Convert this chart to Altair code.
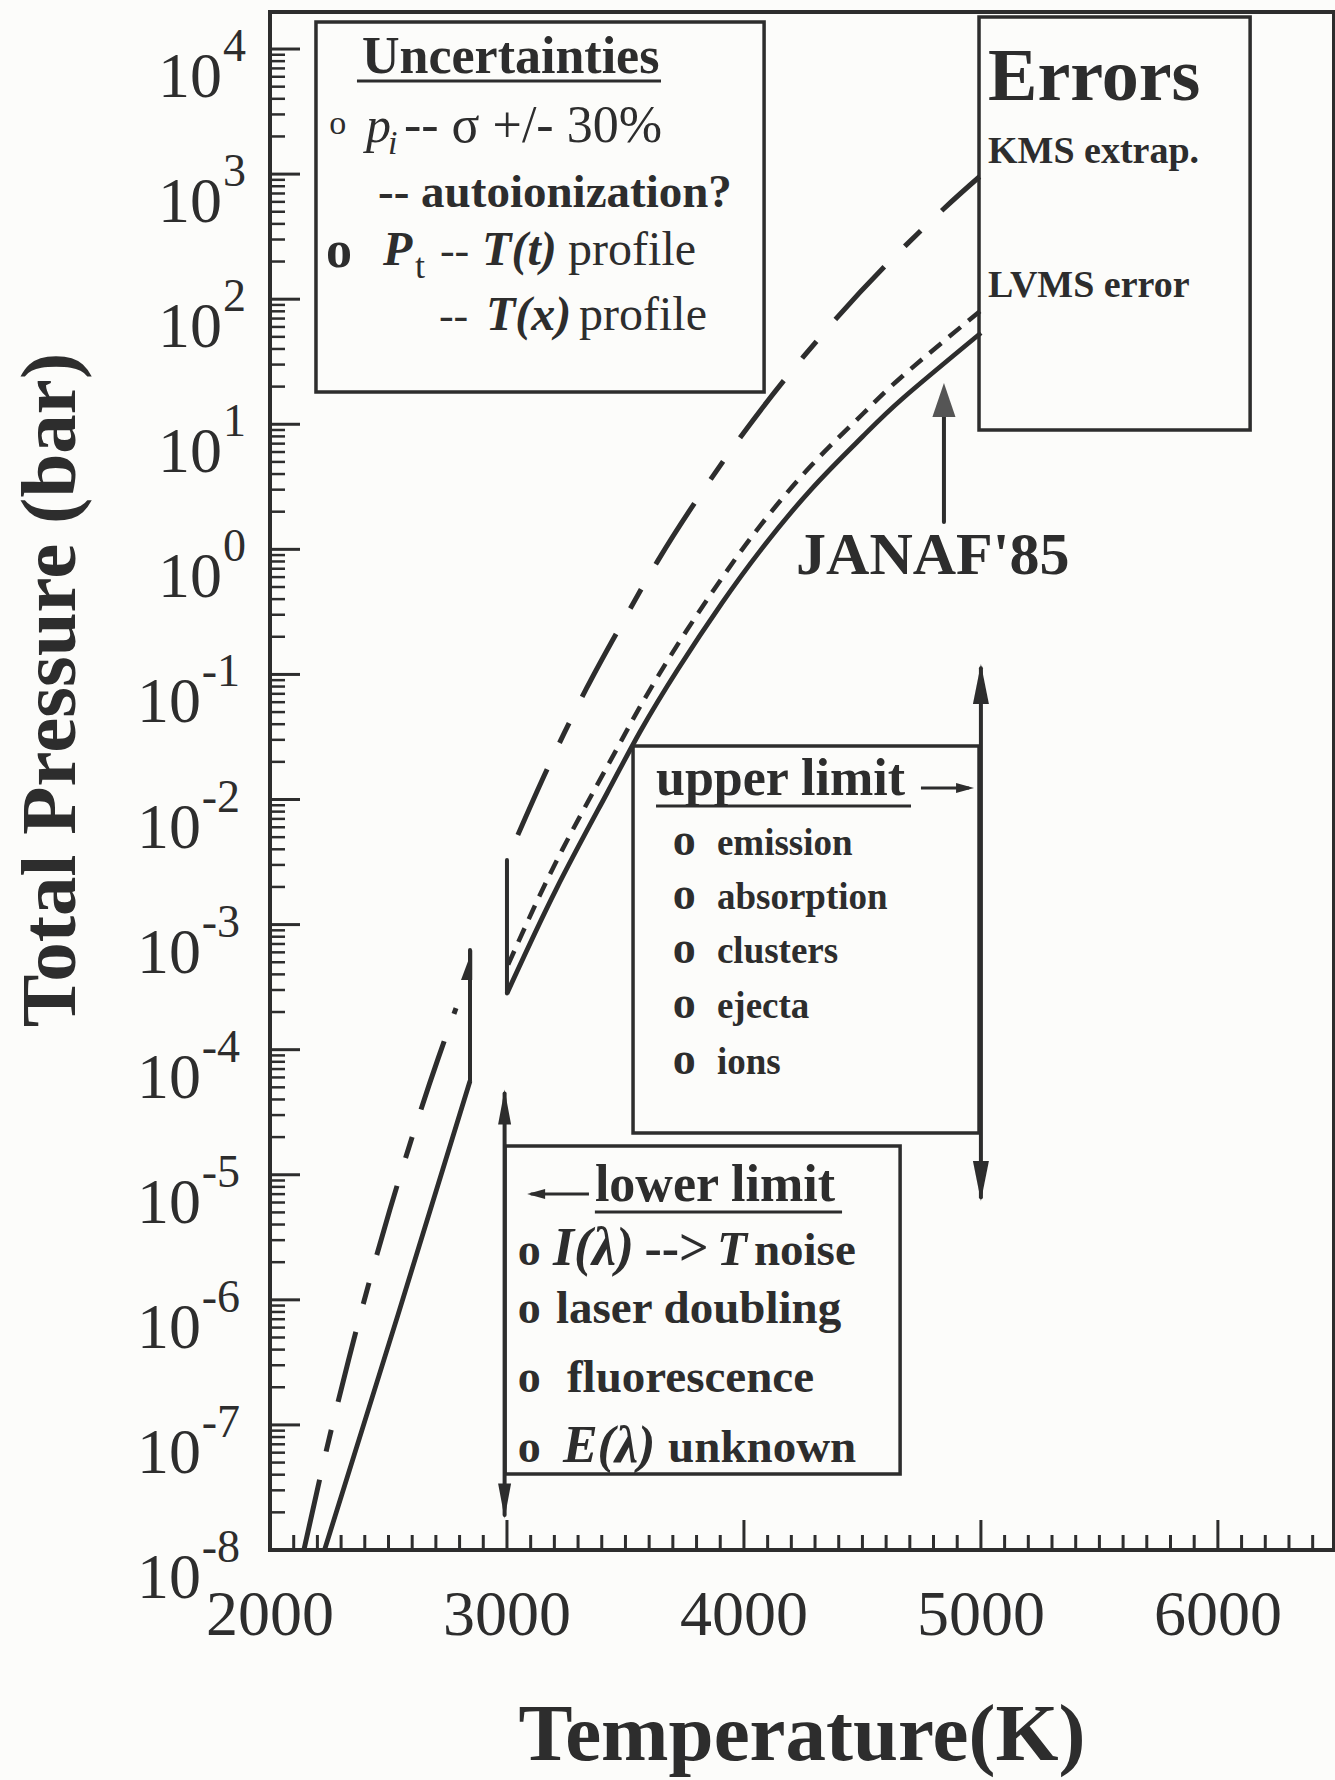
import altair as alt
import pandas as pd
import numpy as np

INK = "#2d2d2d"
BG = "#fcfcfa"
FONT = "Liberation Serif"
W, H = 1064, 1538

# ---------------- data (T in K, L = log10 P/bar) ----------------
solid_lo_T = [2230, 2540, 2844]
solid_lo_L = [-8.0, -6.12, -4.25]
solid_hi_T = [3000, 3207, 3422, 3561, 3724, 3907, 4069, 4284, 4500, 4672, 5000]
solid_hi_L = [-3.55, -2.72, -1.95, -1.46, -0.95, -0.43, -0.01, 0.48, 0.90, 1.21, 1.73]
short_T = [3005, 3207, 3422, 3561, 3724, 3907, 4069, 4284, 4500, 4672, 5000]
short_L = [-3.32, -2.50, -1.74, -1.26, -0.75, -0.23, 0.19, 0.67, 1.08, 1.39, 1.91]
dd_lo_T = [2143, 2236, 2333, 2419, 2505, 2613, 2710, 2785]
dd_lo_L = [-8.0, -7.219, -6.470, -5.856, -5.285, -4.620, -4.068, -3.668]
dd_hi_T = [3046, 3175, 3336, 3477, 3637, 3810, 3982, 4173, 4387, 4600, 4840, 4994]
dd_hi_L = [-2.283, -1.735, -1.110, -0.620, -0.090, 0.422, 0.888, 1.360, 1.840, 2.274, 2.717, 2.979]

# vertical segments (T, L_from, L_to)
verticals = [(2844, -4.25, -3.203), (3000, -3.55, -2.484), (2990, -4.35, -7.72), (5000, -0.95, -5.18), (4844, 0.219, 1.20)]

# boxes (T1, T2, L1, L2)
boxes = [(2194, 4085, 4.216, 1.258), (4992, 6136, 4.256, 0.954), (3532, 4992, -1.572, -4.666), (2992, 4659, -4.770, -7.393)]
# underlines and small horizontal arrows (T1, T2, L)
hlines = [(2367, 3650, 3.744), (3629, 4705, -2.052), (3371, 4414, -5.298), (4747, 4950, -1.908), (3100, 3346, -5.154)]

x_major = [2000, 3000, 4000, 5000, 6000]
x_minor = [t for t in range(2100, 6500, 100) if t % 1000]
y_exps = list(range(-8, 5))
y_minor = [k * 10.0 ** e for e in range(-8, 4) for k in range(2, 10)]

texts = [
    ("Uncertainties", 2388, 3.808, 52, "b"),
    ("o", 2250, 3.321, 34, "r"),
    ("p", 2405, 3.257, 50, "i"),
    ("i", 2498, 3.161, 34, "i"),
    ("-- \u03c3 +/- 30%", 2565, 3.257, 52, "r"),
    ("-- autoionization?", 2456, 2.737, 47, "b"),
    ("o", 2236, 2.257, 52, "b"),
    ("P", 2477, 2.273, 48, "bi"),
    ("t", 2612, 2.169, 36, "r"),
    ("--", 2717, 2.273, 44, "r"),
    ("T(t)", 2895, 2.273, 48, "bi"),
    ("profile", 3258, 2.273, 48, "r"),
    ("--", 2713, 1.754, 44, "r"),
    ("T(x)", 2911, 1.754, 48, "bi"),
    ("profile", 3304, 1.754, 48, "r"),
    ("Errors", 5030, 3.592, 74, "b"),
    ("KMS extrap.", 5030, 3.089, 38, "b"),
    ("LVMS error", 5030, 2.017, 38, "b"),
    ("JANAF'85", 4220, -0.197, 60, "b"),
    ("upper limit", 3629, -1.964, 52, "b"),
    ("emission", 3886, -2.444, 37, "b"),
    ("absorption", 3886, -2.876, 37, "b"),
    ("clusters", 3886, -3.307, 37, "b"),
    ("ejecta", 3886, -3.747, 37, "b"),
    ("ions", 3886, -4.195, 37, "b"),
    ("lower limit", 3371, -5.210, 52, "b"),
    ("I(\u03bb)", 3194, -5.722, 54, "bi"),
    ("-->", 3580, -5.722, 52, "b"),
    ("T", 3886, -5.722, 49, "bi"),
    ("noise", 4042, -5.722, 47, "b"),
    ("laser doubling", 3207, -6.185, 47, "b"),
    ("fluorescence", 3253, -6.737, 47, "b"),
    ("E(\u03bb)", 3236, -7.297, 52, "bi"),
    ("unknown", 3680, -7.297, 47, "b"),
]
for L in [-2.444, -2.876, -3.307, -3.747, -4.195]:
    texts.append(("o", 3700, L, 46, "b"))
for L in [-5.722, -6.185, -6.737, -7.297]:
    texts.append(("o", 3045, L, 46, "b"))

# ---------------- scales ----------------
xs = alt.Scale(domain=[2000, 6490], nice=False, zero=False)
ys = alt.Scale(type="log", domain=[1e-8, 10 ** 4.296], nice=False)


def X(f="T"):
    return alt.X(f + ":Q", scale=xs, axis=None)


def Y(f="P"):
    return alt.Y(f + ":Q", scale=ys, axis=None)


def curve_df(T, L):
    return pd.DataFrame({"T": T, "P": [10 ** v for v in L]})


layers = []

# boxes
bdf = pd.DataFrame(boxes, columns=["T", "T2", "L", "L2"])
bdf["P"] = 10 ** bdf["L"]
bdf["P2"] = 10 ** bdf["L2"]
layers.append(alt.Chart(bdf).mark_rect(fill=BG, stroke=INK, strokeWidth=3.5).encode(
    x=X(), x2="T2:Q", y=Y(), y2="P2:Q"))

# ticks
layers.append(alt.Chart(pd.DataFrame({"T": x_major})).mark_rule(color=INK, strokeWidth=3).encode(
    x=X(), y=alt.value(H), y2=alt.value(H - 30)))
layers.append(alt.Chart(pd.DataFrame({"T": x_minor})).mark_rule(color=INK, strokeWidth=3).encode(
    x=X(), y=alt.value(H), y2=alt.value(H - 15)))
layers.append(alt.Chart(pd.DataFrame({"P": [10.0 ** e for e in y_exps]})).mark_rule(color=INK, strokeWidth=3).encode(
    y=Y(), x=alt.value(0), x2=alt.value(30)))
layers.append(alt.Chart(pd.DataFrame({"P": y_minor})).mark_rule(color=INK, strokeWidth=2.5).encode(
    y=Y(), x=alt.value(0), x2=alt.value(15)))

# curves
for T, L, dash, sw in [
    (solid_lo_T, solid_lo_L, None, 4.8),
    (solid_hi_T, solid_hi_L, None, 4.8),
    (short_T, short_L, [15, 10], 4.5),
    (dd_lo_T, dd_lo_L, [72, 29, 22, 29], 5),
    (dd_hi_T, dd_hi_L, [72, 29, 22, 29], 5),
]:
    kw = dict(color=INK, strokeWidth=sw, interpolate="natural", strokeCap="butt")
    if dash:
        kw["strokeDash"] = dash
    layers.append(alt.Chart(curve_df(T, L)).mark_line(**kw).encode(x=X(), y=Y()))

# vertical lines
vdf = pd.DataFrame(verticals, columns=["T", "L", "L2"])
vdf["P"] = 10 ** vdf["L"]
vdf["P2"] = 10 ** vdf["L2"]
layers.append(alt.Chart(vdf).mark_rule(color=INK, strokeWidth=4, strokeCap="round").encode(
    x=X(), y=Y(), y2="P2:Q"))

# horizontal lines (underlines, arrows)
hdf = pd.DataFrame(hlines, columns=["T", "T2", "L"])
hdf["P"] = 10 ** hdf["L"]
layers.append(alt.Chart(hdf).mark_rule(color=INK, strokeWidth=3).encode(
    x=X(), x2="T2:Q", y=Y()))


# arrowheads
def heads(T, L, shape, size, fill=INK):
    df = pd.DataFrame({"T": T, "P": [10 ** v for v in L]})
    return alt.Chart(df).mark_point(shape=shape, size=size, filled=True, fill=fill, opacity=1).encode(x=X(), y=Y())


layers.append(heads([5000], [-1.077], "M0,-1L0.4,1L-0.4,1Z", 1600))
layers.append(heads([5000], [-5.050], "M0,1L0.4,-1L-0.4,-1Z", 1600))
layers.append(heads([2990], [-4.459], "M0,-1L0.37,1L-0.37,1Z", 1225))
layers.append(heads([2990], [-7.608], "M0,1L0.37,-1L-0.37,-1Z", 1225))
layers.append(heads([4844], [1.194], "M0,-1L0.68,1L-0.68,1Z", 1156, "#555555"))
layers.append(heads([2844], [-3.323], "M0.15,-1L0.15,1L-0.6,1Z", 900))
layers.append(heads([4933], [-1.908], "M1,0L-1,-0.55L-1,0.55Z", 324))
layers.append(heads([3123], [-5.154], "M-1,0L1,-0.55L1,0.55Z", 324))

# annotation texts
tdf = pd.DataFrame(texts, columns=["text", "T", "L", "size", "style"])
tdf["P"] = 10 ** tdf["L"]
for st, weight, fstyle in [("r", "normal", "normal"), ("b", "bold", "normal"), ("i", "normal", "italic"), ("bi", "bold", "italic")]:
    sub = tdf[tdf["style"] == st]
    layers.append(alt.Chart(sub).mark_text(align="left", baseline="alphabetic", font=FONT,
                                           fontWeight=weight, fontStyle=fstyle, color=INK).encode(
        x=X(), y=Y(), text="text:N", size=alt.Size("size:Q", scale=None)))

# y tick labels 10^e
ylab = pd.DataFrame({"P": [10.0 ** e for e in y_exps], "e": [str(e) for e in y_exps], "ten": ["10"] * len(y_exps),
                     "neg": [e < 0 for e in y_exps]})
pos, neg = ylab[~ylab["neg"]], ylab[ylab["neg"]]
layers.append(alt.Chart(pos).mark_text(align="right", baseline="alphabetic", font=FONT, fontSize=46, dy=12, color=INK).encode(
    y=Y(), x=alt.value(-24), text="e:N"))
layers.append(alt.Chart(neg).mark_text(align="right", baseline="alphabetic", font=FONT, fontSize=46, dy=12, color=INK).encode(
    y=Y(), x=alt.value(-30), text="e:N"))
layers.append(alt.Chart(pos).mark_text(align="right", baseline="alphabetic", font=FONT, fontSize=64, dy=48, color=INK).encode(
    y=Y(), x=alt.value(-48), text="ten:N"))
layers.append(alt.Chart(neg).mark_text(align="right", baseline="alphabetic", font=FONT, fontSize=64, dy=48, color=INK).encode(
    y=Y(), x=alt.value(-69), text="ten:N"))

# x tick labels
xlab = pd.DataFrame({"T": x_major, "lab": [str(t) for t in x_major]})
layers.append(alt.Chart(xlab).mark_text(align="center", baseline="alphabetic", font=FONT, fontSize=64, dy=85, color=INK).encode(
    x=X(), y=alt.value(H), text="lab:N"))

# axis titles
layers.append(alt.Chart(pd.DataFrame({"t": ["Temperature(K)"]})).mark_text(
    align="center", baseline="alphabetic", font=FONT, fontSize=81, fontWeight="bold", color=INK).encode(
    x=alt.value(W / 2), y=alt.value(1748), text="t:N"))
layers.append(alt.Chart(pd.DataFrame({"t": ["Total Pressure (bar)"]})).mark_text(
    align="center", baseline="alphabetic", font=FONT, fontSize=79, fontWeight="bold", color=INK, angle=270).encode(
    x=alt.value(-195), y=alt.value(678), text="t:N"))

chart = alt.layer(*layers).properties(
    width=W, height=H,
    autosize=alt.AutoSizeParams(type="none"),
    padding={"left": 270, "top": 12, "right": 1, "bottom": 230},
    background=BG,
).configure_view(stroke=INK, strokeWidth=4)

chart.save("out.html", embed_options={"renderer": "svg", "actions": False})
